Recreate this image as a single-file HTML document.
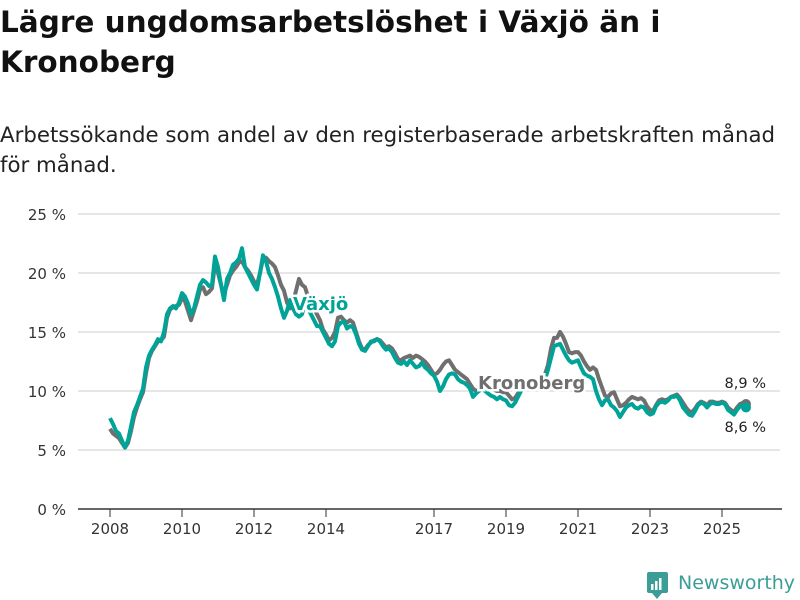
<!DOCTYPE html>
<html><head><meta charset="utf-8"><style>
body{margin:0;background:#fff;font-family:"DejaVu Sans","Liberation Sans",sans-serif;}
#wrap{position:relative;width:800px;height:600px;overflow:hidden;}
h1{position:absolute;left:0;top:2px;margin:0;font-size:29.5px;line-height:40px;font-weight:bold;color:#111;white-space:nowrap;}
.sub{position:absolute;left:0;top:121px;margin:0;font-size:21.3px;line-height:30px;color:#222;white-space:nowrap;}
svg{position:absolute;left:0;top:0;}
</style></head><body><div id="wrap">
<h1>Lägre ungdomsarbetslöshet i Växjö än i<br>Kronoberg</h1>
<p class="sub">Arbetssökande som andel av den registerbaserade arbetskraften månad<br>för månad.</p>
<svg id="chart" width="800" height="600"></svg>
</div>
<script>
const yTicks=[0,5,10,15,20,25];
const xTickYears=[2008,2010,2012,2014,2017,2019,2021,2023,2025];
const vaxjo=[7.7,7.2,6.6,6.4,5.8,5.2,5.8,7.0,8.2,8.8,9.5,10.2,
12.0,13.0,13.5,13.9,14.4,14.2,15.0,16.5,17.0,17.2,17.0,17.5,
18.3,18.0,17.4,16.5,17.0,18.0,19.0,19.4,19.2,18.9,19.0,21.4,
20.5,19.0,17.7,19.5,20.0,20.7,20.9,21.2,22.1,20.5,20.0,19.5,
19.0,18.6,20.0,21.5,21.0,20.0,19.5,18.8,18.0,17.0,16.2,16.8,
17.7,17.0,16.5,16.3,16.5,17.5,17.0,16.5,16.0,15.5,15.5,15.0,
14.5,14.0,13.8,14.2,15.5,15.8,15.9,15.3,15.5,15.4,14.8,14.0,
13.5,13.4,13.8,14.2,14.2,14.4,14.2,13.8,13.5,13.6,13.3,12.8,
12.4,12.3,12.5,12.2,12.6,12.3,12.0,12.1,12.4,12.0,11.8,11.5,
11.3,10.8,10.0,10.4,11.0,11.4,11.5,11.4,11.0,10.8,10.7,10.5,
10.2,9.5,9.8,10.0,10.2,10.0,9.8,9.6,9.5,9.3,9.5,9.3,
9.2,8.8,8.7,9.0,9.5,10.0,10.4,10.5,10.6,10.5,10.6,10.7,
10.9,11.0,11.8,12.8,13.8,13.9,14.0,13.5,13.0,12.6,12.4,12.5,
12.6,12.0,11.5,11.3,11.2,11.0,10.0,9.3,8.8,9.2,9.3,8.8,
8.6,8.3,7.8,8.2,8.6,8.8,8.9,8.6,8.5,8.7,8.6,8.2,
8.0,8.1,8.7,9.0,9.1,9.0,9.2,9.5,9.5,9.6,9.2,8.6,
8.3,8.0,7.9,8.3,8.8,9.0,8.9,8.6,8.9,9.0,8.9,8.9,
9.0,8.9,8.4,8.2,8.0,8.4,8.7,8.8,8.6];
const kronoberg=[6.8,6.4,6.2,6.0,5.6,5.2,5.6,6.6,7.8,8.6,9.3,9.9,
11.5,12.8,13.4,13.8,14.2,14.3,14.6,16.2,16.9,17.1,17.2,17.3,
17.9,17.6,16.8,16.0,16.8,17.6,18.6,18.8,18.2,18.4,18.7,20.8,
20.0,19.0,18.2,19.0,19.8,20.2,20.5,20.9,21.0,20.5,20.2,19.8,
19.3,19.0,20.0,21.2,21.3,21.0,20.8,20.5,19.8,19.0,18.5,17.5,
17.0,17.5,18.5,19.5,19.0,18.8,18.0,17.5,17.0,16.5,16.0,15.2,
14.8,14.3,14.5,15.0,16.2,16.3,16.0,15.8,16.0,15.8,15.0,14.2,
13.6,13.5,13.9,14.1,14.3,14.4,14.3,14.0,13.7,13.8,13.6,13.2,
12.7,12.6,12.8,12.9,13.0,12.8,13.0,12.9,12.7,12.5,12.2,11.8,
11.4,11.5,11.8,12.2,12.5,12.6,12.2,11.8,11.6,11.4,11.2,11.0,
10.6,10.2,10.0,10.1,10.4,10.4,10.3,10.2,10.1,10.0,10.0,9.9,
9.9,9.6,9.3,9.4,9.8,10.2,10.5,10.6,10.7,10.8,10.8,11.0,
11.2,11.4,12.2,13.6,14.5,14.5,15.0,14.6,14.0,13.3,13.2,13.3,
13.3,13.0,12.5,12.1,11.8,12.0,11.8,11.0,10.3,9.6,9.5,9.8,
9.9,9.3,8.7,8.8,9.0,9.3,9.5,9.4,9.3,9.4,9.2,8.7,
8.4,8.3,8.8,9.2,9.3,9.2,9.3,9.5,9.6,9.7,9.4,9.0,
8.6,8.3,8.2,8.5,8.9,9.1,9.0,8.8,9.1,9.1,9.0,9.0,
9.1,9.0,8.6,8.4,8.2,8.6,8.9,9.0,8.9];
const startYear=2008;
const NS="http://www.w3.org/2000/svg";
const svg=document.getElementById('chart');
function x(i){return 110+i*3;}
function xYear(yr){return x((yr-startYear)*12);}
function y(v){return 509-v*11.8;}
function el(t,a,p){const e=document.createElementNS(NS,t);for(const k in a)e.setAttribute(k,a[k]);(p||svg).appendChild(e);return e;}
yTicks.forEach(v=>{
  if(v>0){const g=el('line',{x1:78,x2:780,y1:y(v),y2:y(v),stroke:'#ddd','stroke-width':1.5});
  
  }
  const t=el('text',{x:66,y:y(v)+6,'text-anchor':'end','font-size':15,fill:'#333'});t.textContent=v+' %';
  
  
});
const ax=el('line',{x1:78,x2:782,y1:509,y2:509,stroke:'#333','stroke-width':1.5});


xTickYears.forEach(yr=>{
  const xx=xYear(yr);
  const tk=el('line',{x1:xx,x2:xx,y1:509,y2:517,stroke:'#333','stroke-width':1});
  
  
  const t=el('text',{x:xx,y:534,'text-anchor':'middle','font-size':15,fill:'#333'});t.textContent=yr;
  
  
});
function line(data,color,name){
  const d=data.map((v,i)=>(i?'L':'M')+x(i).toFixed(1)+','+y(v).toFixed(1)).join('');
  const p=el('path',{d:d,fill:'none',stroke:color,'stroke-width':4,'stroke-linejoin':'round'});
  
  
  const n=data.length-1;
  const c=el('circle',{cx:x(n),cy:y(data[n]),r:5,fill:color});
  
  
}
line(kronoberg,'#6f6f6f','kronoberg-line');
line(vaxjo,'#00a398','vaxjo-line');
function label(txt,xx,yy,color,name,bold,anchor){
  const t=el('text',{x:xx,y:yy,'font-size':bold?18:14.5,'font-weight':bold?'bold':'normal',fill:color,stroke:'#fff','stroke-width':bold?5:0,'paint-order':'stroke','text-anchor':anchor||'start'});
  t.textContent=txt;
  
  
}
label('Växjö',293,310,'#00a398','vaxjo-series-label',true);
label('Kronoberg',478,389,'#6f6f6f','kronoberg-series-label',true);
const n=vaxjo.length-1;
label(kronoberg[n].toFixed(1).replace('.',',')+' %',766,388,'#222','kronoberg-end-value',false,'end');
label(vaxjo[n].toFixed(1).replace('.',',')+' %',766,432,'#222','vaxjo-end-value',false,'end');
const g=el('g',{});


el('rect',{x:647,y:572,width:21,height:21,rx:2,fill:'#3a9e96'},g);
el('path',{d:'M652,593 L657,599 L662,593 Z',fill:'#3a9e96'},g);
el('rect',{x:651,y:584,width:2.5,height:6,fill:'#fff'},g);
el('rect',{x:655,y:581,width:2.5,height:9,fill:'#fff'},g);
el('rect',{x:659,y:578,width:2.5,height:12,fill:'#fff'},g);
const lt=el('text',{x:678,y:589,'font-size':19,fill:'#3a9e96'},g);lt.textContent='Newsworthy';
</script></body></html>
